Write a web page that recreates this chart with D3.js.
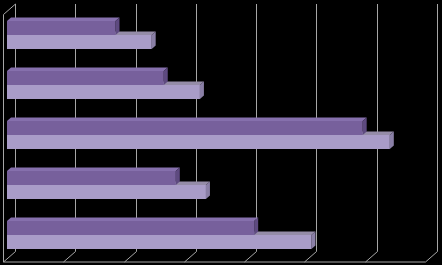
<!DOCTYPE html>
<html>
<head>
<meta charset="utf-8">
<script src="https://cdn.jsdelivr.net/npm/d3@7"></script>
<style>
  html, body { margin: 0; padding: 0; background: #000; }
  svg { display: block; }
</style>
</head>
<body>
<svg id="chart"></svg>
<script>
// data, top to bottom
const categories = ["1", "2", "3", "4", "5"];
const series = ["Series 1", "Series 2"];
const series1 = [18, 26, 59, 28, 41];
const series2 = [24, 32, 63.5, 33, 50.5];
const ticks = [0, 10, 20, 30, 40, 50, 60, 70];

const W = 442, H = 265;
const svg = d3.select("#chart").attr("width", W).attr("height", H);

svg.append("rect").attr("width", W).attr("height", H).attr("fill", "#000");

// back wall scale and floor depth offset
const xBack = d3.scaleLinear().domain([0, 70]).range([15, 437]);
const floorDx = -12, floorDy = 10.5;
const backTop = 4, backBottom = 251.5;

// bars sit between back wall and front edge
const xBar = d3.scaleLinear().domain([0, 70]).range([7, 429]);
const barDx = 4, barDy = -3.5;

const y0 = d3.scaleBand().domain(categories).range([10, 260]);
const y1 = d3.scaleBand().domain(series).range([11, 39]);

const grid = svg.append("g")
  .attr("stroke", "#a6a6a6")
  .attr("stroke-width", 1)
  .attr("fill", "none");

// back wall gridlines + floor slants
ticks.forEach(t => {
  const x = Math.round(xBack(t)) + 0.5;
  grid.append("line")
    .attr("x1", x).attr("x2", x)
    .attr("y1", backTop).attr("y2", backBottom);
  grid.append("line")
    .attr("x1", x).attr("x2", x + floorDx)
    .attr("y1", backBottom).attr("y2", backBottom + floorDy);
});

// front floor edge
grid.append("line")
  .attr("x1", xBack(0) + floorDx + 0.5).attr("x2", xBack(70) + floorDx + 0.5)
  .attr("y1", backBottom + floorDy).attr("y2", backBottom + floorDy);

// left wall front edge + top slant
grid.append("line")
  .attr("x1", xBack(0) + floorDx + 0.5).attr("x2", xBack(0) + floorDx + 0.5)
  .attr("y1", backTop + floorDy).attr("y2", backBottom + floorDy);
grid.append("line")
  .attr("x1", xBack(0) + 0.5).attr("x2", xBack(0) + floorDx + 0.5)
  .attr("y1", backTop).attr("y2", backTop + floorDy);

const colors = {
  "Series 1": { front: "#77609c", top: "#8670ad", side: "#5e4a80" },
  "Series 2": { front: "#a99cc8", top: "#958ca8", side: "#8a7fa6" }
};

const rows = categories.map((c, i) => ({
  category: c,
  bars: [
    { series: "Series 2", value: series2[i] },
    { series: "Series 1", value: series1[i] }
  ]
}));

const bars = svg.append("g");

rows.forEach(row => {
  row.bars.forEach(b => {
    const x0 = xBar(0), x1 = xBar(b.value);
    const yt = y0(row.category) + y1(b.series);
    const yb = yt + y1.bandwidth();
    const col = colors[b.series];

    // top face
    bars.append("path")
      .attr("d", `M${x0},${yt}L${x0 + barDx},${yt + barDy}L${x1 + barDx},${yt + barDy}L${x1},${yt}Z`)
      .attr("fill", col.top);
    // side face
    bars.append("path")
      .attr("d", `M${x1},${yt}L${x1 + barDx},${yt + barDy}L${x1 + barDx},${yb + barDy}L${x1},${yb}Z`)
      .attr("fill", col.side);
    // front face
    bars.append("rect")
      .attr("x", x0)
      .attr("y", yt)
      .attr("width", x1 - x0)
      .attr("height", yb - yt)
      .attr("fill", col.front);
  });
});
</script>
</body>
</html>
